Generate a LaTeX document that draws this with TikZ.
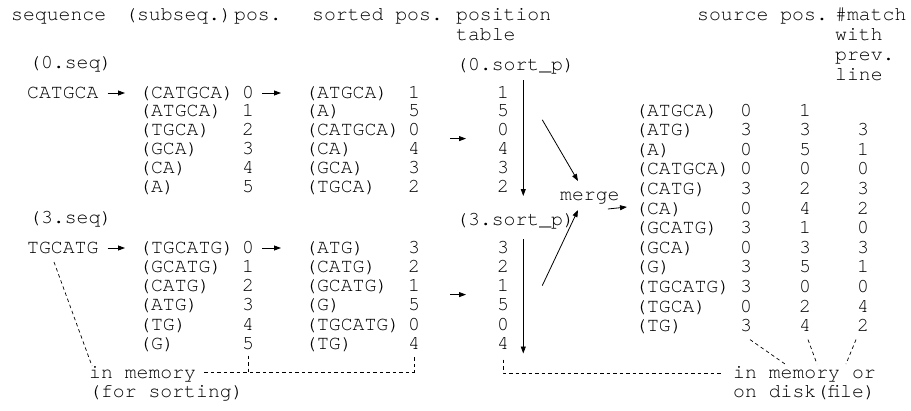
\documentclass[tikz,border=0pt]{standalone}
\usepackage{fontspec}
\setmonofont{texgyrecursor-regular.otf}
\usetikzlibrary{arrows.meta}
\begin{document}
\begin{tikzpicture}[x=1pt,y=-1pt,
  t/.style={anchor=base west,inner sep=0pt,font=\fontsize{19.8}{19.8}\selectfont\ttfamily},
  arr/.style={-{Triangle[length=7pt,width=5pt]},line width=0.8pt},
  dsh/.style={line width=0.7pt,dash pattern=on 3.5pt off 3pt}]
\useasboundingbox (0,0) rectangle (911,410);
% header
\node[t] (hseq) at (11,20) {sequence};
\node[t] (hsub) at (125,20) {(subseq.)};
\node[t] (hpos) at (234,20) {pos.};
\node[t] (hsort) at (312,20) {sorted pos.};
\node[t] (hpt1) at (456,20) {position};
\node[t] (hpt2) at (456,40) {table};
\node[t] (hsrc) at (697,20) {source pos.};
\node[t] (hm1) at (835,20) {\#match};
\node[t] (hm2) at (835,40) {with};
\node[t] (hm3) at (835,60) {prev.};
\node[t] (hm4) at (835,80) {line};
% group 0
\node[t] (seqA) at (29,68) {(0.seq)};
\node[t] (spA) at (456,70) {(0.sort\_p)};
\node[t] (cA) at (27,98) {CATGCA};
\foreach \s/\d [count=\i from 0] in {(CATGCA)/0,(ATGCA)/1,(TGCA)/2,(GCA)/3,(CA)/4,(A)/5}{
  \node[t] (au\i) at (139,{98+18.8*\i}) {\s};
  \node[t] (aud\i) at (242,{98+18.8*\i}) {\d};}
\foreach \s/\d [count=\i from 0] in {(ATGCA)/1,(A)/5,(CATGCA)/0,(CA)/4,(GCA)/3,(TGCA)/2}{
  \node[t] (at\i) at (305,{98+18.8*\i}) {\s};
  \node[t] (atd\i) at (408,{98+18.8*\i}) {\d};}
\foreach \d [count=\i from 0] in {1,5,0,4,3,2}{
  \node[t] (ap\i) at (497,{98+18.8*\i}) {\d};}
% group 3
\node[t] (seqB) at (29,223) {(3.seq)};
\node[t] (spB) at (456,225) {(3.sort\_p)};
\node[t] (cB) at (27,253) {TGCATG};
\foreach \s/\d [count=\i from 0] in {(TGCATG)/0,(GCATG)/1,(CATG)/2,(ATG)/3,(TG)/4,(G)/5}{
  \node[t] (bu\i) at (139,{253+19.3*\i}) {\s};
  \node[t] (bud\i) at (242,{253+19.3*\i}) {\d};}
\foreach \s/\d [count=\i from 0] in {(ATG)/3,(CATG)/2,(GCATG)/1,(G)/5,(TGCATG)/0,(TG)/4}{
  \node[t] (bt\i) at (305,{253+19.3*\i}) {\s};
  \node[t] (btd\i) at (408,{253+19.3*\i}) {\d};}
\foreach \d [count=\i from 0] in {3,2,1,5,0,4}{
  \node[t] (bp\i) at (497,{253+19.3*\i}) {\d};}
% merged table
\foreach \s/\a/\b [count=\i from 0] in {(ATGCA)/0/1,(ATG)/3/3,(A)/0/5,(CATGCA)/0/0,(CATG)/3/2,(CA)/0/4,(GCATG)/3/1,(GCA)/0/3,(G)/3/5,(TGCATG)/3/0,(TGCA)/0/2,(TG)/3/4}{
  \node[t] (m\i) at (635,{116+19.6*\i}) {\s};
  \node[t] (ms\i) at (740,{116+19.6*\i}) {\a};
  \node[t] (mp\i) at (799,{116+19.6*\i}) {\b};}
\foreach \c [count=\i from 1] in {3,1,0,3,2,0,3,1,0,4,2}{
  \node[t] (mm\i) at (857,{116+19.6*\i}) {\c};}
\node[t] (merge) at (560,200) {merge};
% bottom texts
\node[t] (memA) at (89,378) {in memory};
\node[t] (memA2) at (89,397) {(for sorting)};
\node[t] (memB) at (733,378) {in memory or};
\node[t] (memB2) at (733,397) {on disk(file)};
% arrows group 0
\draw[arr] ([shift={(9,-5)}]cA.base east) -- ([shift={(-14,-5)}]au0.base west);
\draw[arr] ([shift={(8,-5)}]aud0.base east) -- ([shift={(-24,-5)}]at0.base west);
\draw[arr] ([shift={(30,3)}]atd2.base east) -- ([shift={(-31,3)}]ap2.base west);
\draw[arr] ([shift={(14,-18)}]ap0.base east) -- ([shift={(14,4)}]ap5.base east);
% arrows group 3
\draw[arr] ([shift={(9,-5)}]cB.base east) -- ([shift={(-14,-5)}]bu0.base west);
\draw[arr] ([shift={(8,-5)}]bud0.base east) -- ([shift={(-24,-5)}]bt0.base west);
\draw[arr] ([shift={(30,3)}]btd2.base east) -- ([shift={(-31,3)}]bp2.base west);
\draw[arr] ([shift={(14,-14)}]bp0.base east) -- ([shift={(14,4)}]bp5.base east);
% merge arrows
\draw[arr] ([shift={(33,3)}]ap1.base east) -- ([shift={(18,-19)}]merge.base west);
\draw[arr] ([shift={(33,-6)}]bp2.base east) -- ([shift={(18,10)}]merge.base west);
\draw[arr] ([shift={(-12,9)}]merge.base east) -- ([shift={(-8,-7)}]m5.base west);
% dashed: in memory (for sorting)
\draw[dsh] ([shift={(27,9)}]cB.base west) -- ([shift={(3,-12)}]memA.base west);
\coordinate (hl) at ([shift={(8,-6)}]memA.base east);
\coordinate (sv) at ([shift={(6,6)}]bud5.base west);
\coordinate (tv) at ([shift={(6,6)}]btd5.base west);
\draw[dsh] (hl) -- (hl -| tv) -- (tv);
\draw[dsh] (sv) -- (sv |- hl);
% dashed: in memory or on disk
\coordinate (pv) at ([shift={(6,10)}]bp5.base west);
\coordinate (ph) at ([shift={(-10,-5)}]memB.base west);
\draw[dsh] (pv) -- (pv |- ph) -- (ph);
\draw[dsh] ([shift={(10,8)}]ms11.base west) -- ([shift={(52,-14)}]memB.base west);
\draw[dsh] ([shift={(9,8)}]mp11.base west) -- ([shift={(84,-14)}]memB.base west);
\draw[dsh] ([shift={(-1,8)}]mm11.base west) -- ([shift={(113,-14)}]memB.base west);
\end{tikzpicture}
\end{document}
